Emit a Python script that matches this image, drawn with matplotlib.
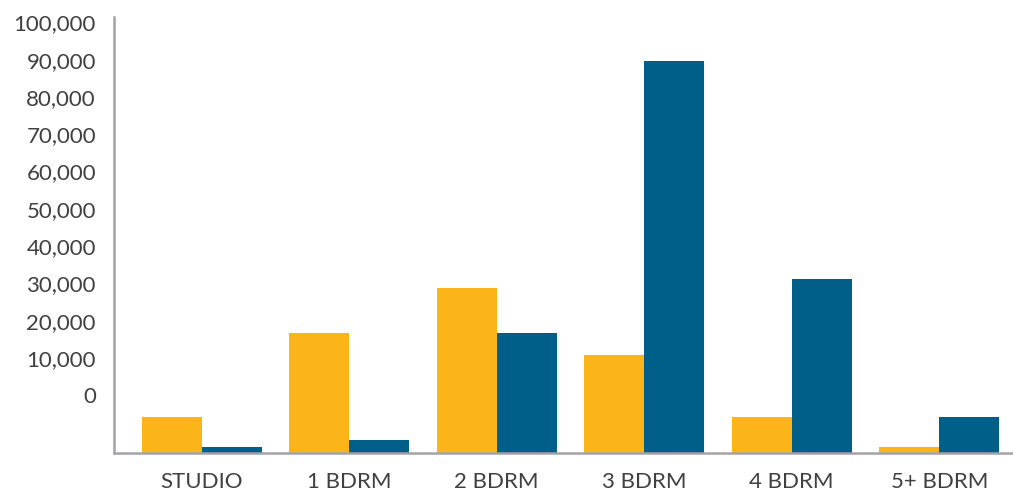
import matplotlib
matplotlib.use("Agg")
import matplotlib.pyplot as plt
import numpy as np

categories = ["STUDIO", "1 BDRM", "2 BDRM", "3 BDRM", "4 BDRM", "5+ BDRM"]
series_yellow = [9750, 32200, 44300, 26300, 9750, 1700]
series_blue = [1700, 3500, 32300, 105200, 46700, 9750]
tick_values = [0, 10000, 20000, 30000, 40000, 50000, 60000, 70000, 80000, 90000, 100000]
tick_labels = [f"{v:,}" for v in tick_values]

plt.rcParams['font.family'] = ['Lato', 'DejaVu Sans']

fig = plt.figure(figsize=(10.13, 4.91), dpi=100)
ax = fig.add_axes([0.1125, 0.0764, 0.8875, 0.889])

x = np.arange(len(categories))
w = 0.407
ax.bar(x - w / 2, series_yellow, width=w, color="#FBB519", linewidth=0)
ax.bar(x + w / 2, series_blue, width=w, color="#005F88", linewidth=0)

# tick labels sit offset above the baseline as in the reference
label_offset = 15570
ax.set_yticks([v + label_offset for v in tick_values])
ax.set_yticklabels(tick_labels)
ax.set_xticks(x)
ax.set_xticklabels(categories)

ax.set_xlim(-0.595, 5.5)
ax.set_ylim(0, 117000)

for s in ["top", "right"]:
    ax.spines[s].set_visible(False)
for s in ["left", "bottom"]:
    ax.spines[s].set_color("#A3A3A7")
    ax.spines[s].set_linewidth(1.8)

ax.tick_params(axis="both", length=0, labelsize=16, labelcolor="#404040")
ax.tick_params(axis="y", pad=13)
ax.tick_params(axis="x", pad=13)

fig.savefig("out.png", dpi=100)
